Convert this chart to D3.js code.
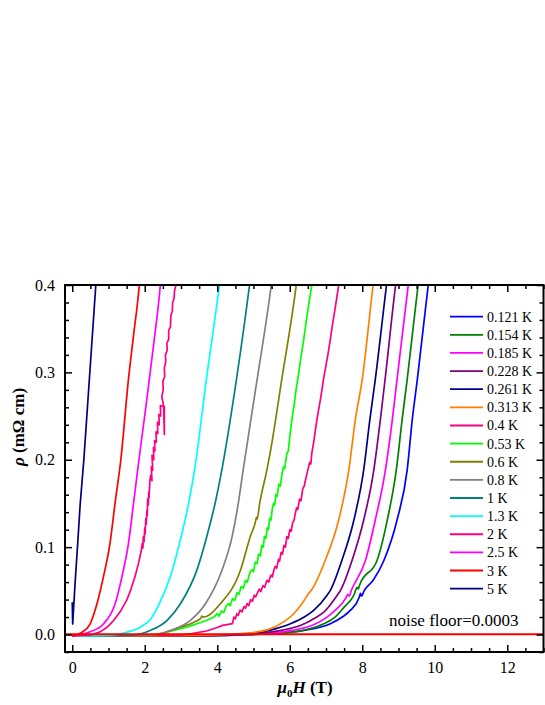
<!DOCTYPE html>
<html><head><meta charset="utf-8">
<script src="https://cdn.jsdelivr.net/npm/d3@7"></script>
<style>body{margin:0;background:#fff;} svg text{font-family:"Liberation Serif","Times New Roman",Times,serif !important;fill:#000;}</style>
</head><body><svg id="c" width="545" height="705"></svg>
<script>
// ---------- data ----------
const labels = ["0.121 K","0.154 K","0.185 K","0.228 K","0.261 K","0.313 K","0.4 K","0.53 K","0.6 K","0.8 K","1 K","1.3 K","2 K","2.5 K","3 K","5 K"];
const colors = ["#0000FF","#008000","#FF00FF","#800080","#000080","#FF8000","#FF0080","#00FF00","#808000","#808080","#008080","#00FFFF","#FF0080","#FF00FF","#FF0000","#000080"];
const noisy = [false,false,false,false,false,false,true,true,false,false,false,false,true,false,false,true];

const s0121 = [[0,-0.0015],[4.0,-0.0012],[4.6,-0.0005],[5.7,0.0015],[6.38,0.0046],[7.12,0.0123],[7.45,0.02],[7.67,0.0276],[7.92,0.043],[7.95,0.047],[7.98,0.044],[8.05,0.050],[8.30,0.062],[8.60,0.085],[8.96,0.131],[9.24,0.1885],[9.38,0.246],[9.52,0.292],[9.82,0.4],[9.85,0.41]];
const s0154 = [[0,-0.0015],[3.8,-0.0012],[4.5,-0.0005],[5.8,0.0015],[6.4,0.005],[6.94,0.0123],[7.25,0.02],[7.50,0.0314],[7.77,0.045],[7.86,0.054],[7.89,0.052],[7.93,0.057],[8.41,0.085],[8.69,0.131],[8.94,0.1885],[9.10,0.246],[9.24,0.292],[9.54,0.4],[9.57,0.41]];
const s0185 = [[0,-0.0015],[3.6,-0.0012],[4.4,-0.0005],[5.5,0.0015],[6.1,0.005],[6.66,0.0112],[7.0,0.019],[7.25,0.0276],[7.55,0.042],[7.60,0.046],[7.64,0.044],[7.70,0.0506],[8.09,0.085],[8.36,0.131],[8.64,0.1885],[8.83,0.246],[8.96,0.292],[9.27,0.4],[9.30,0.41]];
const s0228 = [[0,-0.0015],[3.4,-0.0012],[4.3,-0.0005],[5.2,0.0015],[5.8,0.005],[6.29,0.0103],[6.70,0.019],[6.94,0.0256],[7.31,0.045],[7.40,0.0506],[7.72,0.085],[8.04,0.131],[8.32,0.1885],[8.50,0.246],[8.63,0.292],[8.92,0.4],[8.95,0.41]];
const s0261 = [[0,-0.0015],[3.2,-0.0012],[4.2,-0.0005],[5.0,0.0015],[5.46,0.005],[6.02,0.0123],[6.40,0.020],[6.66,0.0276],[7.03,0.045],[7.12,0.0506],[7.44,0.085],[7.77,0.131],[8.04,0.1885],[8.21,0.246],[8.36,0.292],[8.67,0.4],[8.70,0.41]];
const s0313 = [[0,-0.0015],[3.0,-0.0012],[4.0,-0.0005],[4.8,0.0015],[5.46,0.0065],[5.85,0.015],[6.11,0.0238],[6.35,0.036],[6.52,0.047],[6.60,0.051],[6.98,0.085],[7.35,0.131],[7.63,0.1885],[7.81,0.246],[8.0,0.292],[8.30,0.4],[8.33,0.41]];
const s04 = [[0,-0.0015],[3.0,-0.0005],[3.3,0.001],[3.7,0.004],[4.0,0.008],[4.15,0.0105],[4.42,0.0125],[4.46,0.02],[4.50,0.018],[4.54,0.0238],[4.58,0.022],[4.63,0.028],[4.68,0.026],[4.74,0.032],[4.78,0.030],[4.82,0.0353],[4.87,0.033],[4.92,0.040],[4.97,0.038],[5.02,0.045],[5.06,0.043],[5.10,0.0467],[5.16,0.052],[5.20,0.049],[5.26,0.056],[5.31,0.054],[5.37,0.062],[5.42,0.060],[5.48,0.068],[5.52,0.066],[5.56,0.0736],[5.60,0.078],[5.64,0.076],[5.69,0.086],[5.72,0.084],[5.76,0.094],[5.80,0.092],[5.84,0.102],[5.88,0.100],[5.92,0.112],[5.96,0.110],[6.0,0.120],[6.04,0.118],[6.08,0.128],[6.12,0.131],[6.15,0.138],[6.19,0.145],[6.22,0.143],[6.27,0.155],[6.31,0.153],[6.36,0.167],[6.40,0.170],[6.44,0.178],[6.48,0.185],[6.55,0.197],[6.58,0.195],[6.61,0.208],[6.66,0.220],[6.70,0.232],[6.75,0.246],[6.80,0.258],[6.85,0.270],[6.90,0.283],[6.93,0.292],[7.0,0.308],[7.06,0.322],[7.12,0.338],[7.18,0.355],[7.24,0.370],[7.30,0.386],[7.35,0.40],[7.38,0.41]];
const s053 = [[0,-0.0015],[2.3,-0.0005],[2.8,0.0046],[3.2,0.009],[3.44,0.0123],[3.7,0.016],[3.90,0.0197],[4.0,0.024],[4.05,0.021],[4.12,0.027],[4.18,0.025],[4.24,0.032],[4.31,0.0353],[4.36,0.033],[4.42,0.041],[4.48,0.039],[4.55,0.048],[4.6,0.046],[4.66,0.055],[4.72,0.053],[4.78,0.062],[4.83,0.060],[4.90,0.071],[4.96,0.074],[5.0,0.072],[5.05,0.083],[5.10,0.081],[5.14,0.092],[5.19,0.090],[5.23,0.102],[5.27,0.100],[5.30,0.112],[5.34,0.110],[5.38,0.122],[5.41,0.120],[5.45,0.133],[5.48,0.131],[5.52,0.144],[5.55,0.150],[5.58,0.148],[5.62,0.160],[5.65,0.158],[5.70,0.172],[5.74,0.170],[5.79,0.185],[5.83,0.192],[5.86,0.190],[5.92,0.207],[5.96,0.210],[6.0,0.226],[6.04,0.240],[6.08,0.252],[6.12,0.262],[6.16,0.276],[6.22,0.292],[6.30,0.315],[6.38,0.336],[6.46,0.360],[6.54,0.382],[6.61,0.40],[6.64,0.41]];
const s06 = [[0,-0.0015],[2.2,-0.001],[2.98,0.0084],[3.40,0.015],[3.55,0.019],[3.58,0.021],[3.62,0.020],[4.08,0.035],[4.64,0.0736],[4.91,0.112],[5.06,0.13],[5.08,0.134],[5.10,0.132],[5.17,0.150],[5.37,0.1885],[5.46,0.208],[5.78,0.292],[6.18,0.4],[6.21,0.41]];
const s08 = [[0,-0.0015],[2.0,-0.001],[2.70,0.0046],[3.25,0.016],[3.67,0.035],[4.13,0.0736],[4.41,0.112],[4.58,0.150],[4.71,0.187],[5.10,0.292],[5.49,0.4],[5.52,0.41]];
const s1 = [[0,-0.0015],[1.6,-0.001],[2.15,0.0046],[2.61,0.016],[2.98,0.035],[3.44,0.074],[3.71,0.112],[3.94,0.150],[4.12,0.187],[4.53,0.292],[4.89,0.4],[4.92,0.41]];
const s13 = [[0,-0.0015],[1.0,-0.001],[1.45,0.002],[1.9,0.009],[2.15,0.017],[2.4,0.035],[2.72,0.068],[2.98,0.108],[3.21,0.15],[3.38,0.19],[3.70,0.292],[4.06,0.4],[4.09,0.41]];
const s2 = [[0,-0.0015],[0.5,-0.0005],[0.77,0.003],[0.95,0.008],[1.14,0.016],[1.32,0.026],[1.5,0.039],[1.62,0.052],[1.73,0.066],[1.83,0.082],[1.90,0.095],[1.93,0.104],[1.95,0.099],[1.96,0.112],[1.98,0.106],[2.0,0.122],[2.01,0.115],[2.03,0.133],[2.04,0.126],[2.06,0.142],[2.07,0.136],[2.08,0.155],[2.10,0.148],[2.11,0.163],[2.12,0.157],[2.14,0.175],[2.16,0.182],[2.20,0.176],[2.18,0.192],[2.22,0.188],[2.20,0.205],[2.25,0.200],[2.24,0.214],[2.28,0.210],[2.27,0.222],[2.32,0.220],[2.31,0.232],[2.36,0.230],[2.35,0.243],[2.40,0.240],[2.39,0.252],[2.44,0.250],[2.43,0.262],[2.54,0.261],[2.54,0.229],[2.52,0.262],[2.47,0.272],[2.51,0.280],[2.50,0.290],[2.55,0.295],[2.54,0.305],[2.58,0.312],[2.57,0.320],[2.62,0.325],[2.61,0.333],[2.66,0.338],[2.66,0.348],[2.71,0.352],[2.72,0.365],[2.76,0.370],[2.77,0.380],[2.81,0.385],[2.82,0.393],[2.86,0.40],[2.87,0.41]];
const s25 = [[0,-0.0015],[0.49,0.003],[0.86,0.012],[1.18,0.035],[1.37,0.066],[1.55,0.104],[1.69,0.15],[1.84,0.2],[2.01,0.254],[2.24,0.33],[2.43,0.4],[2.45,0.41]];
const s3 = [[0,-0.0015],[0.25,0.002],[0.49,0.012],[0.68,0.035],[0.86,0.066],[1.04,0.104],[1.18,0.15],[1.34,0.2],[1.55,0.292],[1.69,0.342],[1.85,0.4],[1.87,0.41]];
const s5 = [[0,0.037],[0.012,0.012],[0.03,0.025],[0.08,0.06],[0.15,0.104],[0.22,0.15],[0.32,0.2],[0.49,0.303],[0.65,0.4],[0.66,0.41]];
const seriesData = [s0121,s0154,s0185,s0228,s0261,s0313,s04,s053,s06,s08,s1,s13,s2,s25,s3,s5];

const xMajor = [0,2,4,6,8,10,12];
const yMajor = [0,0.1,0.2,0.3,0.4];
const noiseFloor = 0.0003;
const noiseLabel = "noise floor=0.0003";

// ---------- layout ----------
const FONT = "Liberation Serif, Times New Roman, Times, serif";
const L = 65, R = 543.5, T = 285, B = 652;
const svg = d3.select("#c");
const x = d3.scaleLinear().domain([-0.2, 13]).range([L, R]);
const y = d3.scaleLinear().domain([-0.02, 0.4]).range([B, T]);
const xMinor = d3.range(0, 13.01, 0.5).filter(v => !xMajor.includes(v));
const yMinor = d3.range(-0.02, 0.401, 0.02).map(v => +v.toFixed(2)).filter(v => !yMajor.some(m => Math.abs(m - v) < 1e-9));

svg.append("clipPath").attr("id","clip").append("rect").attr("x",L).attr("y",T).attr("width",R-L).attr("height",B-T);

const gData = svg.append("g").attr("clip-path","url(#clip)");
seriesData.forEach((s, i) => {
  const line = d3.line().x(d => x(d[0])).y(d => y(d[1]))
    .curve(noisy[i] ? d3.curveLinear : d3.curveMonotoneX);
  gData.append("path").datum(s).attr("d", line)
    .attr("fill","none").attr("stroke", colors[i]).attr("stroke-width", 1.7)
    .attr("stroke-linejoin","round");
});
// noise floor line
gData.append("line").attr("x1", x(-0.2)).attr("x2", x(13)).attr("y1", y(noiseFloor)).attr("y2", y(noiseFloor))
  .attr("stroke","#FF0000").attr("stroke-width",1.8);

// axes
function styleAxis(g){ g.attr("font-family", FONT); g.select(".domain").remove(); g.selectAll("line").attr("stroke","#000").attr("stroke-width",1.5); g.selectAll("text").attr("font-size","16px").attr("font-family", FONT); }
svg.append("g").attr("transform",`translate(0,${B})`).call(d3.axisBottom(x).tickValues(xMajor).tickSize(-7).tickPadding(10).tickFormat(d3.format("d"))).call(styleAxis);
svg.append("g").attr("transform",`translate(0,${B})`).call(d3.axisBottom(x).tickValues(xMinor).tickSize(-4).tickFormat("")).call(styleAxis);
svg.append("g").attr("transform",`translate(0,${T})`).call(d3.axisTop(x).tickValues(xMajor).tickSize(-7).tickFormat("")).call(styleAxis);
svg.append("g").attr("transform",`translate(0,${T})`).call(d3.axisTop(x).tickValues(xMinor).tickSize(-4).tickFormat("")).call(styleAxis);
svg.append("g").attr("transform",`translate(${L},0)`).call(d3.axisLeft(y).tickValues(yMajor).tickSize(-7).tickPadding(10).tickFormat(d3.format(".1f"))).call(styleAxis);
svg.append("g").attr("transform",`translate(${L},0)`).call(d3.axisLeft(y).tickValues(yMinor).tickSize(-4).tickFormat("")).call(styleAxis);
svg.append("g").attr("transform",`translate(${R},0)`).call(d3.axisRight(y).tickValues(yMajor).tickSize(-7).tickFormat("")).call(styleAxis);
svg.append("g").attr("transform",`translate(${R},0)`).call(d3.axisRight(y).tickValues(yMinor).tickSize(-4).tickFormat("")).call(styleAxis);

// frame
svg.append("rect").attr("x",L).attr("y",T).attr("width",R-L).attr("height",B-T)
  .attr("fill","none").attr("stroke","#000").attr("stroke-width",2);

// axis titles
const yt = svg.append("text").attr("transform","translate(24,427) rotate(-90)")
  .attr("text-anchor","middle").attr("font-size","17px").attr("font-weight","bold").attr("font-family", FONT);
yt.append("tspan").attr("font-style","italic").text("ρ");
yt.append("tspan").text(" (mΩ cm)");

const xt = svg.append("text").attr("x",305).attr("y",693).attr("text-anchor","middle")
  .attr("font-size","17px").attr("font-weight","bold").attr("font-family", FONT);
xt.append("tspan").attr("font-style","italic").text("μ");
xt.append("tspan").attr("font-size","11px").attr("dy",4).text("0");
xt.append("tspan").attr("font-style","italic").attr("dy",-4).text("H");
xt.append("tspan").text(" (T)");

// noise label
svg.append("text").attr("x",389).attr("y",626).attr("font-size","17px").attr("font-family", FONT).text(noiseLabel);

// legend
const lg = svg.append("g");
labels.forEach((lab, i) => {
  const ly = 316.7 + i * 18.13;
  lg.append("line").attr("x1",450).attr("x2",483).attr("y1",ly).attr("y2",ly)
    .attr("stroke",colors[i]).attr("stroke-width",1.8);
  lg.append("text").attr("x",487).attr("y",ly+5).attr("font-size","14px").attr("font-family", FONT).text(lab);
});
</script></body></html>
